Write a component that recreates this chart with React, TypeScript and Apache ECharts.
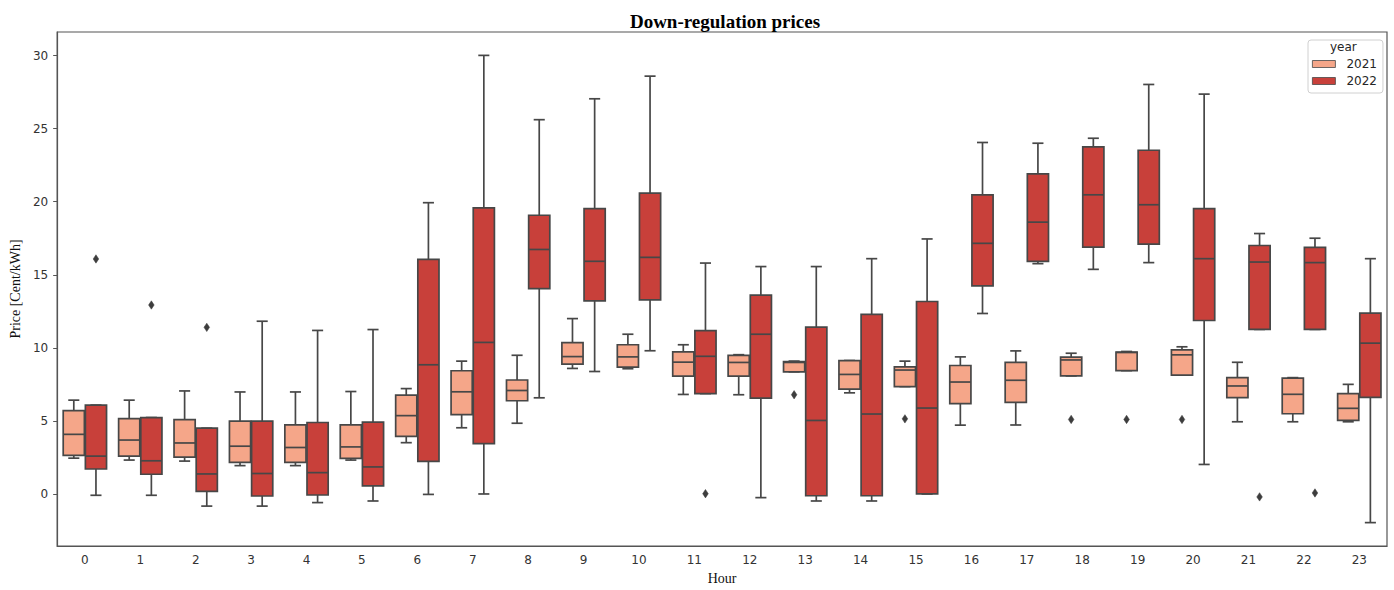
import React, { useEffect, useRef } from "react";
import * as echarts from "echarts";

const hours = ["0","1","2","3","4","5","6","7","8","9","10","11","12","13","14","15","16","17","18","19","20","21","22","23"];
const yTicks = [0, 5, 10, 15, 20, 25, 30];

// [min whisker, Q1, median, Q3, max whisker] per hour
const box2021 = [
  [2.45, 2.64, 4.08, 5.70, 6.42],
  [2.32, 2.59, 3.69, 5.16, 6.42],
  [2.25, 2.52, 3.49, 5.09, 7.05],
  [1.94, 2.16, 3.27, 4.98, 6.98],
  [1.94, 2.16, 3.18, 4.73, 6.98],
  [2.32, 2.43, 3.22, 4.73, 7.01],
  [3.51, 3.94, 5.36, 6.76, 7.21],
  [4.53, 5.43, 6.99, 8.43, 9.09],
  [4.84, 6.38, 7.08, 7.80, 9.49],
  [8.59, 8.88, 9.40, 10.35, 12.0],
  [8.57, 8.68, 9.38, 10.21, 10.93],
  [6.81, 8.07, 9.02, 9.72, 10.21],
  [6.79, 8.07, 9.0, 9.49, 9.53],
  [8.36, 8.36, 9.0, 9.06, 9.09],
  [6.92, 7.17, 8.18, 9.13, 9.13],
  [7.35, 7.35, 8.48, 8.70, 9.09],
  [4.71, 6.18, 7.66, 8.79, 9.38],
  [4.72, 6.27, 7.78, 9.01, 9.79],
  [8.08, 8.08, 9.17, 9.36, 9.63],
  [8.44, 8.44, 9.68, 9.70, 9.75],
  [8.13, 8.13, 9.52, 9.86, 10.07],
  [4.94, 6.59, 7.39, 7.96, 9.01],
  [4.94, 5.49, 6.82, 7.92, 7.96],
  [4.94, 5.03, 5.86, 6.87, 7.5],
];

const box2022 = [
  [-0.09, 1.71, 2.59, 6.08, 6.08],
  [-0.09, 1.35, 2.27, 5.23, 5.23],
  [-0.83, 0.18, 1.37, 4.50, 4.50],
  [-0.83, -0.14, 1.40, 4.98, 11.82],
  [-0.59, -0.07, 1.46, 4.89, 11.19],
  [-0.48, 0.56, 1.85, 4.91, 11.25],
  [-0.03, 2.23, 8.84, 16.05, 19.93],
  [0.0, 3.44, 10.37, 19.57, 30.01],
  [6.58, 14.05, 16.73, 19.07, 25.61],
  [8.38, 13.21, 15.92, 19.53, 27.04],
  [9.80, 13.28, 16.19, 20.59, 28.59],
  [6.87, 6.87, 9.42, 11.18, 15.8],
  [-0.25, 6.56, 10.93, 13.6, 15.56],
  [-0.48, -0.12, 5.03, 11.41, 15.56],
  [-0.48, -0.12, 5.47, 12.29, 16.1],
  [0.0, 0.0, 5.88, 13.17, 17.45],
  [12.35, 14.24, 17.15, 20.47, 24.05],
  [15.76, 15.92, 18.6, 21.9, 24.0],
  [15.37, 16.89, 20.47, 23.75, 24.34],
  [15.83, 17.09, 19.79, 23.52, 28.02],
  [2.02, 11.87, 16.1, 19.53, 27.36],
  [11.26, 11.26, 15.87, 17.0, 17.82],
  [11.26, 11.26, 15.83, 16.88, 17.5],
  [-1.96, 6.61, 10.32, 12.37, 16.1],
];

// [hour index, value]
const out2021 = [[13, 6.79], [15, 5.14], [18, 5.1], [19, 5.1], [20, 5.1]];
const out2022 = [[0, 16.08], [1, 12.93], [2, 11.40], [11, 0.02], [21, -0.2], [22, 0.07]];

const C2021 = "#F5A689";
const C2022 = "#C8403A";
const EDGE = "#474747";
const LW = 1.7;

function boxRenderer(sign: number, color: string) {
  return (params: any, api: any) => {
    const cat = api.value(0);
    const lo = api.value(1), q1 = api.value(2), med = api.value(3), q3 = api.value(4), hi = api.value(5);
    const band = api.size([1, 0])[0];
    const cx = api.coord([cat, 0])[0] + sign * band * 0.2;
    const hw = band * 0.2 - 0.5;
    const cw = band * 0.1;
    const yLo = api.coord([cat, lo])[1];
    const yQ1 = api.coord([cat, q1])[1];
    const yMed = api.coord([cat, med])[1];
    const yQ3 = api.coord([cat, q3])[1];
    const yHi = api.coord([cat, hi])[1];
    const ls = { stroke: EDGE, lineWidth: LW };
    return {
      type: "group",
      children: [
        { type: "line", shape: { x1: cx, y1: yQ3, x2: cx, y2: yHi }, style: ls },
        { type: "line", shape: { x1: cx, y1: yQ1, x2: cx, y2: yLo }, style: ls },
        { type: "line", shape: { x1: cx - cw, y1: yHi, x2: cx + cw, y2: yHi }, style: ls },
        { type: "line", shape: { x1: cx - cw, y1: yLo, x2: cx + cw, y2: yLo }, style: ls },
        {
          type: "rect",
          shape: { x: cx - hw, y: yQ3, width: hw * 2, height: yQ1 - yQ3 },
          style: { fill: color, stroke: EDGE, lineWidth: LW },
        },
        { type: "line", shape: { x1: cx - hw, y1: yMed, x2: cx + hw, y2: yMed }, style: ls },
      ],
    };
  };
}

function outRenderer(sign: number) {
  return (params: any, api: any) => {
    const cat = api.value(0);
    const v = api.value(1);
    const band = api.size([1, 0])[0];
    const p = api.coord([cat, v]);
    const cx = p[0] + sign * band * 0.2;
    const cy = p[1];
    return {
      type: "polygon",
      shape: { points: [[cx, cy - 4.2], [cx + 2.8, cy], [cx, cy + 4.2], [cx - 2.8, cy]] },
      style: { fill: "#3d3d3d", stroke: "#3d3d3d", lineWidth: 0.5 },
    };
  };
}

export default function App() {
  const ref = useRef<HTMLDivElement>(null);
  useEffect(() => {
    if (!ref.current) return;
    const chart = echarts.init(ref.current, null, { renderer: "svg" });
    const d21 = box2021.map((b, i) => [i, ...b]);
    const d22 = box2022.map((b, i) => [i, ...b]);
    const tickFont = { fontFamily: "DejaVu Sans", fontSize: 12, color: "#333" };
    chart.setOption({
      animation: false,
      backgroundColor: "#fff",
      title: {
        text: "Down-regulation prices",
        left: 720,
        top: 7,
        textAlign: "center",
        textStyle: { fontFamily: "Liberation Serif", fontWeight: "bold", fontSize: 19, color: "#000" },
      },
      legend: {
        orient: "vertical",
        left: 1308,
        top: 40,
        padding: [18, 6, 6, 4],
        itemWidth: 23,
        itemHeight: 7,
        itemGap: 5,
        borderColor: "#d0d0d0",
        borderWidth: 1,
        borderRadius: 3,
        backgroundColor: "rgba(255,255,255,0.8)",
        textStyle: { fontFamily: "DejaVu Sans", fontSize: 12, color: "#262626", padding: [0, 0, 0, 6] },
        data: [
          { name: "2021", icon: "rect", itemStyle: { color: C2021, borderColor: EDGE, borderWidth: 0.8 } },
          { name: "2022", icon: "rect", itemStyle: { color: C2022, borderColor: EDGE, borderWidth: 0.8 } },
        ],
      },
      graphic: [
        {
          type: "text",
          left: 1330,
          top: 41,
          z: 10,
          style: { text: "year", fontFamily: "DejaVu Sans", fontSize: 12, fill: "#262626" },
        },
      ],
      grid: {
        left: 53,
        right: 7,
        top: 32,
        bottom: 38,
        show: true,
        borderColor: "#555",
        borderWidth: 1.2,
        backgroundColor: "transparent",
      },
      xAxis: {
        type: "category",
        data: hours,
        boundaryGap: true,
        name: "Hour",
        nameLocation: "middle",
        nameGap: 25,
        nameTextStyle: { fontFamily: "Liberation Serif", fontSize: 14, color: "#111" },
        axisLine: { onZero: false, lineStyle: { color: "#555", width: 1.2 } },
        axisTick: { alignWithLabel: true, length: 4, lineStyle: { color: "#555" } },
        axisLabel: { ...tickFont, margin: 8, interval: 0 },
        splitLine: { show: false },
      },
      yAxis: {
        type: "value",
        min: -3.56,
        max: 31.61,
        name: "Price [Cent/kWh]",
        nameLocation: "middle",
        nameGap: 28,
        nameTextStyle: { fontFamily: "Liberation Serif", fontSize: 14, color: "#111" },
        axisLine: { show: true, lineStyle: { color: "#555", width: 1.2 } },
        axisTick: { show: true, length: 4, lineStyle: { color: "#555" }, customValues: yTicks },
        axisLabel: { ...tickFont, margin: 9, customValues: yTicks },
        splitLine: { show: false },
      },
      series: [
        {
          name: "2021",
          type: "custom",
          renderItem: boxRenderer(-1, C2021),
          itemStyle: { color: C2021, borderColor: EDGE },
          encode: { x: 0, y: [1, 2, 3, 4, 5] },
          data: d21,
          clip: false,
        },
        {
          name: "2022",
          type: "custom",
          renderItem: boxRenderer(1, C2022),
          itemStyle: { color: C2022, borderColor: EDGE },
          encode: { x: 0, y: [1, 2, 3, 4, 5] },
          data: d22,
          clip: false,
        },
        {
          name: "2021",
          type: "custom",
          renderItem: outRenderer(-1),
          itemStyle: { color: C2021 },
          encode: { x: 0, y: 1 },
          data: out2021,
        },
        {
          name: "2022",
          type: "custom",
          renderItem: outRenderer(1),
          itemStyle: { color: C2022 },
          encode: { x: 0, y: 1 },
          data: out2022,
        },
      ],
    });
    return () => chart.dispose();
  }, []);
  return (
    <div
      ref={ref}
      style={{ position: "absolute", left: 0, top: 0, width: 1394, height: 590, background: "#fff" }}
    />
  );
}
